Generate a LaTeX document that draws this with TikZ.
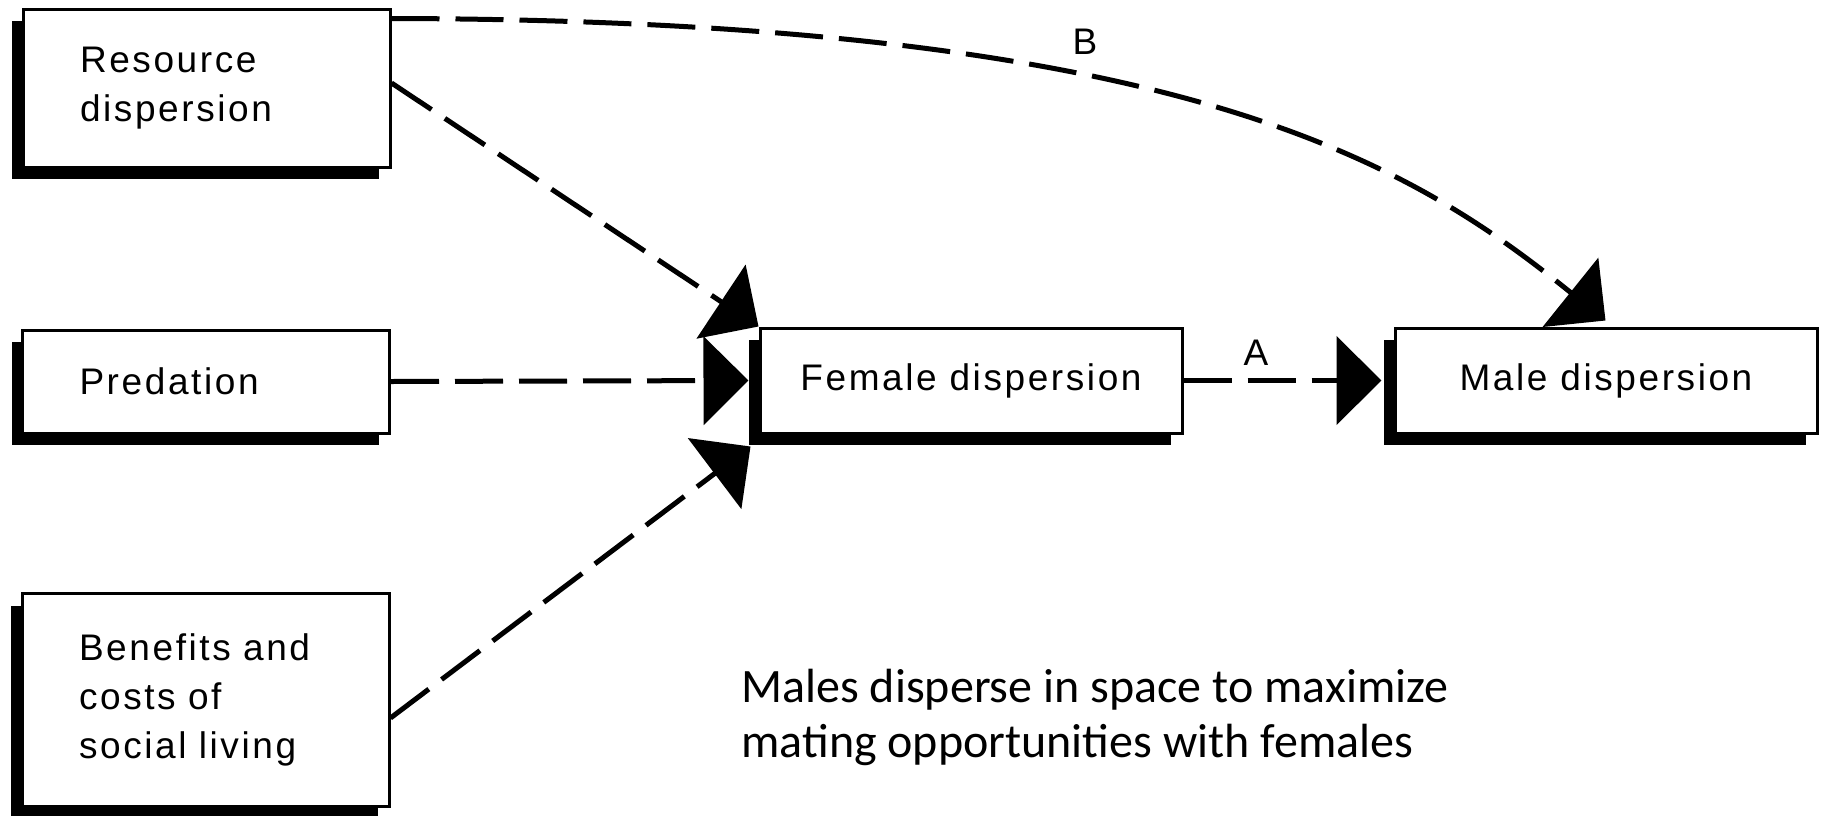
\documentclass[tikz,border=0pt]{standalone}
\usepackage{fontspec}
\setmainfont{Liberation Sans}[LetterSpace=7]
\newfontfamily\capfont{Carlito}
\usetikzlibrary{arrows.meta,shadows,calc}
\begin{document}
\begin{tikzpicture}[x=0.5pt,y=-0.5pt,
  box/.style={draw=black, line width=1.5pt, fill=white,
    general shadow={fill=black, shadow xshift=-5.5pt, shadow yshift=-6pt},
    font=\fontsize{18.5}{24.5}\selectfont},
  leftbox/.style={box, text width=126.5pt, inner xsep=28.5pt, inner ysep=0pt, align=left},
  rightbox/.style={box, minimum width=211pt, minimum height=52.5pt, inner xsep=0pt, align=center},
  conn/.style={line width=2.5pt, dash pattern=on 24pt off 8pt,
    -{Triangle[length=22.5pt,width=44pt]}},
  lbl/.style={font=\fontsize{18.5}{20}\selectfont, inner sep=0pt}
]
\useasboundingbox (0,0) rectangle (1822,815);
\fill[white] (0,0) rectangle (1822,815);

\node[leftbox, minimum height=79pt] (res) at (206.5,88) {Resource\\dispersion};
\node[leftbox, minimum height=51.5pt] (pred) at (206,381.5) {Predation};
\node[leftbox, minimum height=106.5pt] (ben) at (205.5,700) {Benefits and\\costs of\\social living};
\node[rightbox] (fem) at (971,380.5) {Female dispersion};
\node[rightbox] (male) at (1606,380.5) {Male dispersion};

\draw[conn] ([yshift=-5.5pt]res.north east) .. controls (1190,20) and (1412,165) .. ([xshift=106pt,yshift=3pt]male.north west);
\draw[conn] ([yshift=2.5pt]res.east) -- (fem.north west);
\draw[conn] (pred.east) -- ([xshift=-5pt]fem.west);
\draw[conn] ([yshift=-9pt]ben.east) -- ([xshift=-4pt,yshift=-6pt]fem.south west);
\draw[conn] (fem.east) -- ([xshift=-6pt]male.west);

\node[lbl] (labA) at (1256,353) {A};
\node[lbl] (labB) at (1085,42) {B};

\node[anchor=base west, align=left, inner sep=0pt,
  font=\capfont\fontsize{24}{27.5}\selectfont] (cap) at (741,757)
  {Males disperse in space to maximize\\mating opportunities with females};
\end{tikzpicture}
\end{document}
